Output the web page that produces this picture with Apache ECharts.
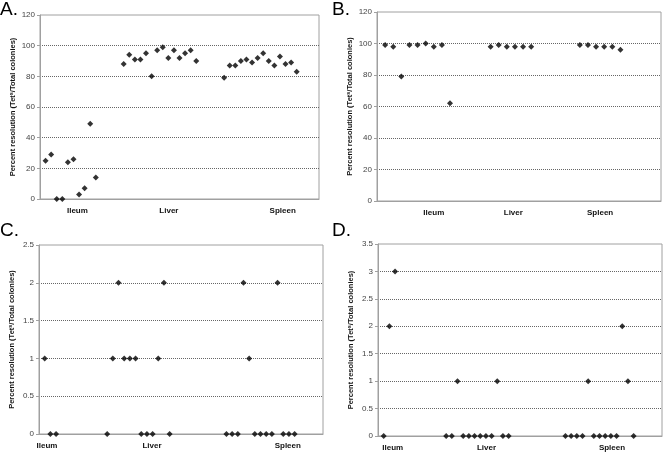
<!DOCTYPE html>
<html>
<head>
<meta charset="utf-8">
<script src="https://cdn.jsdelivr.net/npm/echarts@6/dist/echarts.min.js"></script>
<style>html,body{margin:0;padding:0;background:#fff}#c{width:664px;height:452px}</style>
</head>
<body>
<div id="c"></div>
<script>
const categories = ['Ileum', 'Liver', 'Spleen'];

// Panel A
const aIleum = [25, 29, 0, 0, 24, 26, 3, 7, 49, 14];
const aLiver = [88, 94, 91, 91, 95, 80, 97, 99, 92, 97, 92, 95, 97, 90];
const aSpleen = [79, 87, 87, 90, 91, 89, 92, 95, 90, 87, 93, 88, 89, 83];
const aStart = [1, 15, 33];
const aLabelAt = [6.7, 23.1, 43.5];

// Panel B
const bIleum = [99, 98, 79, 99, 99, 100, 98, 99, 62];
const bLiver = [98, 99, 98, 98, 98, 98];
const bSpleen = [99, 99, 98, 98, 98, 96];
const bStart = [1, 14, 25];
const bLabelAt = [7.0, 16.8, 27.5];

// Panel C
const cIleum = [1, 0, 0];
const cLiver = [0, 1, 2, 1, 1, 1, 0, 0, 0, 1, 2, 0];
const cSpleen = [0, 0, 0, 2, 1, 0, 0, 0, 0, 2, 0, 0, 0];
const cStart = [1, 12, 33];
const cLabelAt = [1.4, 19.9, 43.8];

// Panel D
const dIleum = [0, 2, 3];
const dLiver = [0, 0, 1, 0, 0, 0, 0, 0, 0, 1, 0, 0];
const dSpleen = [0, 0, 0, 0, 1, 0, 0, 0, 0, 0, 2, 1, 0];
const dStart = [1, 12, 33];
const dLabelAt = [2.6, 19.1, 41.2];

const panels = [
  {letter: 'A.', groups: [aIleum, aLiver, aSpleen], start: aStart, labelAt: aLabelAt, xMax: 50, yMax: 120, yStep: 20,
   grid: {left: 40, top: 15, width: 279, height: 184}, letterPos: [0, 0]},
  {letter: 'B.', groups: [bIleum, bLiver, bSpleen], start: bStart, labelAt: bLabelAt, xMax: 35, yMax: 120, yStep: 20,
   grid: {left: 377, top: 12, width: 284, height: 189}, letterPos: [332, 0]},
  {letter: 'C.', groups: [cIleum, cLiver, cSpleen], start: cStart, labelAt: cLabelAt, xMax: 50, yMax: 2.5, yStep: 0.5,
   grid: {left: 39, top: 245, width: 284, height: 189}, letterPos: [0, 221]},
  {letter: 'D.', groups: [dIleum, dLiver, dSpleen], start: dStart, labelAt: dLabelAt, xMax: 50, yMax: 3.5, yStep: 0.5,
   grid: {left: 378, top: 244, width: 284, height: 192}, letterPos: [332, 221]}
];

const FONT = '"Liberation Sans", Arial, sans-serif';
const grids = [], xAxes = [], yAxes = [], series = [], graphics = [];

panels.forEach((p, i) => {
  grids.push(Object.assign({show: true, borderColor: '#a0a0a0', borderWidth: 1, backgroundColor: 'transparent'}, p.grid));
  const labelAt = p.labelAt;
  xAxes.push({
    type: 'value', gridIndex: i, min: 0, max: p.xMax,
    axisLine: {show: true, lineStyle: {color: '#a0a0a0', width: 1}},
    axisTick: {show: false},
    splitLine: {show: false},
    axisLabel: {
      show: true, customValues: labelAt, margin: 8,
      fontFamily: FONT, fontSize: 8, fontWeight: 'bold', color: '#111',
      formatter: v => { const k = labelAt.findIndex(t => Math.abs(t - v) < 1e-6); return k >= 0 ? categories[k] : ''; }
    }
  });
  yAxes.push({
    type: 'value', gridIndex: i, min: 0, max: p.yMax, interval: p.yStep,
    axisLine: {show: true, lineStyle: {color: '#a0a0a0', width: 1}},
    axisTick: {show: true, length: 3, lineStyle: {color: '#a0a0a0'}},
    splitLine: {show: true, showMinLine: false, showMaxLine: false, lineStyle: {color: '#666', type: [1, 1], width: 1}},
    axisLabel: {fontFamily: FONT, fontSize: 8, color: '#444', margin: 5},
    name: '{a|Percent resolution (Tet}{s|s}{a|/Total colonies)}',
    nameLocation: 'middle', nameGap: 23,
    nameTextStyle: {
      rich: {
        a: {fontFamily: FONT, fontSize: 7.5, fontWeight: 'bold', color: '#111'},
        s: {fontFamily: FONT, fontSize: 5.5, fontWeight: 'bold', color: '#111', verticalAlign: 'top', padding: [0, 0, 3, 0]}
      }
    }
  });
  p.groups.forEach((vals, g) => {
    series.push({
      type: 'scatter', xAxisIndex: i, yAxisIndex: i,
      symbol: 'diamond', symbolSize: 6,
      itemStyle: {color: '#000'},
      data: vals.map((v, k) => [p.start[g] + k, v])
    });
  });
  graphics.push({
    type: 'text', left: p.letterPos[0], top: p.letterPos[1],
    style: {text: p.letter, fontFamily: FONT, fontSize: 19, fill: '#000'}
  });
});

const chart = echarts.init(document.getElementById('c'), null, {renderer: 'canvas'});
chart.setOption({
  animation: false,
  backgroundColor: '#fff',
  grid: grids, xAxis: xAxes, yAxis: yAxes, series: series, graphic: graphics
});
</script>
</body>
</html>
